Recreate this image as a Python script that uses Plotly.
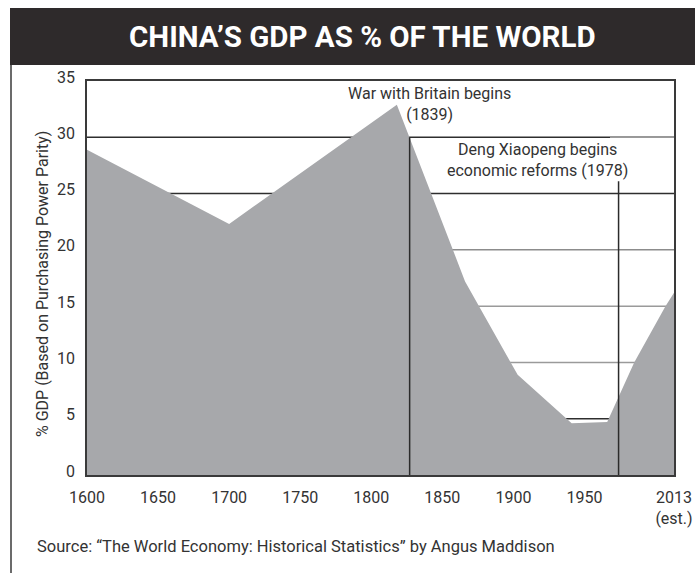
import plotly.graph_objects as go

# ---- data ----
years = [1600, 1700, 1818, 1866, 1903, 1941, 1966, 1985, 2007, 2013]
gdp_share = [28.9, 22.3, 32.9, 17.2, 8.9, 4.6, 4.7, 10.0, 15.0, 16.2]

tick_years = [1600, 1650, 1700, 1750, 1800, 1850, 1900, 1950, 2013]
tick_labels = ["1600", "1650", "1700", "1750", "1800", "1850", "1900", "1950", "2013<br>(est.)"]
y_ticks = [0, 5, 10, 15, 20, 25, 30, 35]

event_years = [1827, 1974]
event_tops = [30, 26.1]
event_labels = ["War with Britain begins<br>(1839)", "Deng Xiaopeng begins<br>economic reforms (1978)"]
event_label_x = [1841, 1917]
event_label_y = [33.0, 28.0]

grid_values = [30, 25, 20, 15, 10, 5]
grid_colors = ["#2e2e2e", "#2e2e2e", "#8c8c8c", "#9a9a9a", "#9a9a9a", "#2e2e2e"]

FONT = "Roboto, sans-serif"
TXT = "#333333"
W, H = 695, 573
L, R, T, B = 87, 674, 81, 475


def px(x):
    return (x - L) / (R - L)


def py(y):
    return (B - y) / (B - T)


fig = go.Figure()
fig.add_trace(go.Scatter(
    x=years, y=gdp_share, mode="lines", fill="tozeroy",
    fillcolor="#a7a8ab", line=dict(width=0, color="#a7a8ab"),
    hoverinfo="x+y", showlegend=False,
))

shapes = []
for v, c in zip(grid_values, grid_colors):
    shapes.append(dict(type="line", xref="paper", yref="y", x0=0, x1=1, y0=v, y1=v,
                       line=dict(color=c, width=1.5), layer="below"))
# lighter tail of the 30 line near the right edge
shapes.append(dict(type="line", xref="paper", yref="y", x0=px(610), x1=1, y0=30, y1=30,
                   line=dict(color="#9a9a9a", width=1.5), layer="below"))
for ex, et in zip(event_years, event_tops):
    shapes.append(dict(type="line", xref="x", yref="y", x0=ex, x1=ex, y0=0, y1=et,
                       line=dict(color="#2b2b2b", width=1.5), layer="above"))
# title bar
shapes.append(dict(type="rect", xref="paper", yref="paper",
                   x0=px(10), x1=px(700), y0=py(65), y1=py(8),
                   fillcolor="#2e2a2b", line=dict(width=0), layer="above"))
# left frame border
shapes.append(dict(type="line", xref="paper", yref="paper",
                   x0=px(11), x1=px(11), y0=py(65), y1=py(580),
                   line=dict(color="#3a3a3a", width=1.5), layer="above"))

annotations = []
for tx, ty, tl in zip(event_label_x, event_label_y, event_labels):
    annotations.append(dict(x=tx, y=ty, xref="x", yref="y", text=tl, showarrow=False,
                            xanchor="center", yanchor="middle", align="center",
                            font=dict(family=FONT, size=16, color=TXT)))
annotations.append(dict(x=px(362), y=py(37), xref="paper", yref="paper",
                        xanchor="center", yanchor="middle",
                        text="<b>CHINA’S GDP AS % OF THE WORLD</b>", showarrow=False,
                        font=dict(family=FONT, size=29.5, color="white")))
annotations.append(dict(x=px(42), y=py(284), xref="paper", yref="paper",
                        xanchor="center", yanchor="middle",
                        text="% GDP (Based on Purchasing Power Parity)", showarrow=False,
                        textangle=-90, font=dict(family=FONT, size=16, color=TXT)))
annotations.append(dict(x=px(35), y=py(546), xref="paper", yref="paper",
                        xanchor="left", yanchor="middle",
                        text="Source: “The World Economy: Historical Statistics” by Angus Maddison",
                        showarrow=False, font=dict(family=FONT, size=16.5, color=TXT)))

fig.update_layout(
    width=W, height=H,
    margin=dict(l=L, r=W - R, t=T, b=H - B, autoexpand=False),
    paper_bgcolor="white", plot_bgcolor="white",
    shapes=shapes, annotations=annotations,
    font=dict(family=FONT, size=16, color=TXT),
    xaxis=dict(range=[1600, 2013], tickvals=tick_years, ticktext=tick_labels,
               showgrid=False, zeroline=False, ticks="", showline=True, mirror=True,
               linecolor="#3a3a3a", linewidth=1.5, ticklabelstandoff=7,
               tickfont=dict(family=FONT, size=16, color=TXT)),
    yaxis=dict(range=[0, 35], tickvals=y_ticks, showgrid=False, zeroline=False, ticks="",
               showline=True, mirror=True, linecolor="#3a3a3a", linewidth=1.5,
               ticklabelstandoff=7, ticklabelshift=-4,
               tickfont=dict(family=FONT, size=16, color=TXT)),
)

fig.write_html("out.html")
